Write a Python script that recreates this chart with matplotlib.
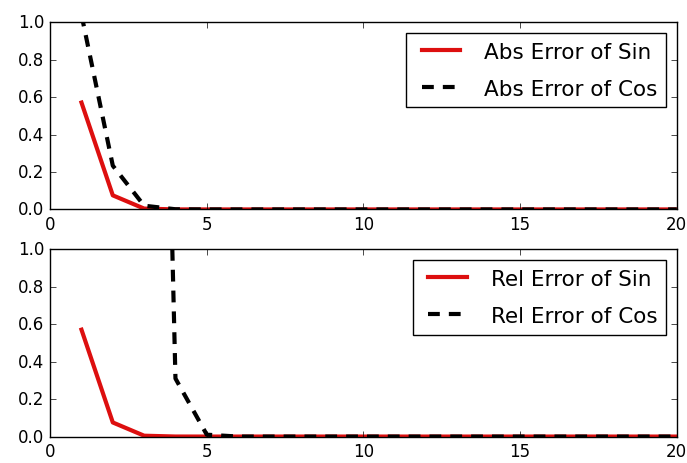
import matplotlib
matplotlib.use("Agg")
import matplotlib.pyplot as plt
import numpy as np

plt.style.use('classic')

# number of series terms
n_terms = np.arange(1, 21)

sin_abs = [0.5708, 0.0752, 0.0045, 0.00016, 0.0000035] + [0.0] * 15
cos_abs = [1.04, 0.2337, 0.0200, 0.0009, 0.000025] + [0.0] * 15
sin_rel = [0.5708, 0.0752, 0.0045, 0.00016, 0.0000035] + [0.0] * 15
cos_rel = [1.0e16, 4.0e15, 7.2, 0.31, 0.01] + [0.0] * 15

red = '#dd0f0f'
dash = (0, (8.5, 6.5))
leg_kw = dict(loc='upper right', fontsize=15.5, handlelength=2.4, labelspacing=0.8)

fig, (ax1, ax2) = plt.subplots(2, 1, figsize=(6.87, 4.64), dpi=100)
fig.subplots_adjust(left=0.073, right=0.985, top=0.950, bottom=0.057, hspace=0.213)

ax1.plot(n_terms, sin_abs, '-', color=red, lw=3, label='Abs Error of Sin')
ax1.plot(n_terms, cos_abs, color='k', ls=dash, lw=3, label='Abs Error of Cos')
ax1.set_xlim(0, 20)
ax1.set_ylim(0, 1)
ax1.legend(**leg_kw)

ax2.plot(n_terms, sin_rel, '-', color=red, lw=3, label='Rel Error of Sin')
ax2.plot(n_terms, cos_rel, color='k', ls=dash, lw=3, label='Rel Error of Cos')
ax2.set_xlim(0, 20)
ax2.set_ylim(0, 1)
ax2.legend(**leg_kw)

fig.savefig('out.png', dpi=100)
